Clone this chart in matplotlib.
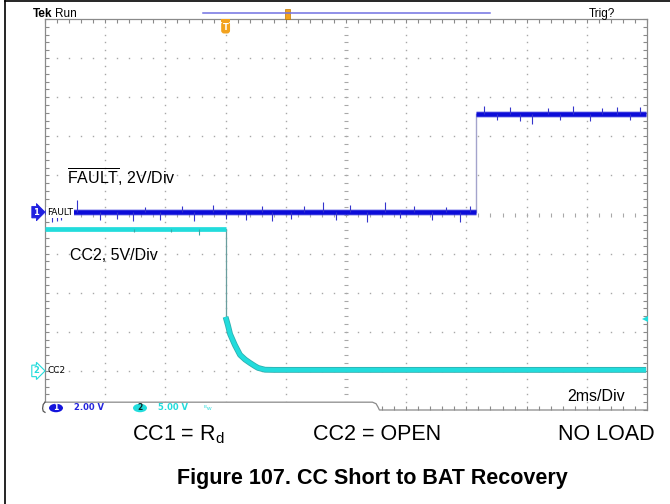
import numpy as np
import matplotlib
matplotlib.use("Agg")
import matplotlib.pyplot as plt
from matplotlib.patches import Ellipse, Rectangle
from matplotlib.lines import Line2D
from matplotlib import transforms

plt.rcParams['font.family'] = ['Liberation Sans', 'DejaVu Sans']
plt.rcParams['mathtext.fontset'] = 'custom'
plt.rcParams['mathtext.rm'] = 'Liberation Sans'

# ---- scope settings ----
time_per_div = 2.0      # ms/div
n_hdiv = 10
n_vdiv = 10
ch1_scale = 2.0         # V/div, FAULT
ch2_scale = 5.0         # V/div, CC2
ch1_pos = 0.06          # div
ch2_pos = -4.0          # div
trig_t = 6.0            # ms
trig_level_v = 6.6      # V on CC2

# ---- FAULT trace (ms, V) ----
fault_t = [0.0, 14.32, 14.32, 19.97]
fault_v = [0.0, 0.0, 5.0, 5.0]
fault_spike_t = [0.23, 0.40, 0.53, 1.06, 1.83, 2.39, 2.92, 3.32, 3.82, 4.55,
                 4.95, 5.58, 6.01, 6.68, 7.21, 7.54, 8.17, 8.60, 9.24, 9.67,
                 10.13, 10.70, 11.30, 11.79, 12.26, 12.86, 13.32, 13.79, 14.12,
                 14.58, 15.02, 15.45, 15.78, 16.18, 16.71, 17.11, 17.54, 18.11,
                 18.50, 19.00, 19.44, 19.77]
fault_spike_v = [-0.51, -0.46, -0.41, 0.61, -0.41, -0.36, -0.46, 0.26, -0.41, 0.31,
                 -0.46, 0.36, -0.36, -0.41, 0.31, -0.46, -0.36, 0.31, 0.51, -0.41,
                 0.36, -0.51, 0.51, -0.31, 0.31, -0.41, 0.26, -0.51, 0.31,
                 0.41, -0.31, 0.36, -0.36, -0.51, 0.31, -0.31, 0.41, -0.36,
                 0.31, 0.36, -0.31, 0.36]

# ---- CC2 trace (ms, V) ----
cc2_t = [0.0, 6.0, 6.0, 6.08, 6.15, 6.31, 6.48, 6.65, 6.81, 6.98, 7.08, 7.31, 7.6, 19.97]
cc2_v = [18.2, 18.2, 6.9, 5.8, 4.7, 3.3, 2.05, 1.45, 1.02, 0.6, 0.38, 0.15, 0.13, 0.13]
cc2_spike_t = [2.95, 4.20, 5.12]
cc2_spike_v = [-0.5, -0.5, -0.8]

W, H = 670, 504


def fx(x):
    return x / W


def fy(y):
    return 1 - y / H


fig = plt.figure(figsize=(W / 100, H / 100), dpi=100)
fig.patch.set_facecolor('white')

ax = fig.add_axes([fx(45), fy(410), (647 - 45) / W, (410 - 19) / H])
xmax = time_per_div * n_hdiv
ax.set_xlim(0, xmax)
ax.set_ylim(-n_vdiv / 2, n_vdiv / 2)

grid_c = '#8a8a8a'
dot_c = '#a8a8a8'
for s in ['left', 'top', 'right']:
    ax.spines[s].set_color(grid_c)
    ax.spines[s].set_linewidth(0.9)
ax.spines['bottom'].set_visible(False)
ax.spines['left'].set_bounds(-4.8, 5)

ax.set_xticks(np.arange(0, xmax + 0.01, time_per_div))
ax.set_xticks(np.arange(0, xmax + 0.01, time_per_div / 5), minor=True)
ax.set_yticks(np.arange(-5, 5.01, 1))
ax.set_yticks(np.arange(-5, 5.01, 0.2), minor=True)
ax.tick_params(which='both', direction='in', top=True, right=True, bottom=True, left=True,
               labelbottom=False, labelleft=False, length=3, width=0.8, color=grid_c)

# dotted graticule
sub_y = np.arange(-5, 5.001, 0.2)[1:-1]
sub_x = np.arange(0, xmax + 0.001, time_per_div / 5)[1:-1]
for gx in np.arange(time_per_div, xmax - 0.01, time_per_div):
    if abs(gx - xmax / 2) < 1e-6:
        continue
    ax.plot(np.full_like(sub_y, gx), sub_y, ls='none', marker='s', ms=1.0, mew=0,
            color=dot_c, zorder=1)
for gy in range(-4, 5):
    if gy == 0:
        continue
    ax.plot(sub_x, np.full_like(sub_x, gy), ls='none', marker='s', ms=1.0, mew=0,
            color=dot_c, zorder=1)
# centre cross with sub-division ticks
ax.plot(sub_x, np.zeros_like(sub_x), ls='none', marker='|', ms=3.5, mew=0.8,
        color=dot_c, zorder=1)
ax.plot(np.full_like(sub_y, xmax / 2), sub_y, ls='none', marker='_', ms=3.5, mew=0.8,
        color=dot_c, zorder=1)


def to_div(v, scale, pos):
    return np.asarray(v, dtype=float) / scale + pos


# ---- CC2 ----
cc2_c = '#22dcdc'
ct = np.array(cc2_t)
cy = to_div(cc2_v, ch2_scale, ch2_pos)
ax.plot(ct[1:3], cy[1:3], color='#6a9e9e', lw=0.9, zorder=3)
ax.plot(ct[:2], cy[:2], color=cc2_c, lw=3.4, solid_capstyle='butt', zorder=3)
ax.plot(ct[2:], cy[2:], color='#2fb0b0', lw=4.2, solid_capstyle='butt', zorder=3)
ax.plot(ct[2:], cy[2:], color=cc2_c, lw=3.0, solid_capstyle='butt', zorder=3)
cbase = np.interp(cc2_spike_t, ct[:2], cy[:2])
ax.vlines(cc2_spike_t, cbase, cbase + np.array(cc2_spike_v) / ch2_scale,
          color='#3aa8a8', lw=0.8, zorder=3)

# ---- FAULT ----
f_c = '#0c0cd8'
ft = np.array(fault_t)
fyv = to_div(fault_v, ch1_scale, ch1_pos)
ax.plot(ft[1:3], fyv[1:3], color='#a4a4cc', lw=1.0, zorder=4)
for i0 in (0, 2):
    seg_t, seg_y = ft[i0:i0 + 2], fyv[i0:i0 + 2]
    ax.plot(seg_t, seg_y, color='#5050e4', lw=5.0, alpha=0.35, solid_capstyle='butt', zorder=4)
    ax.plot(seg_t, seg_y, color=f_c, lw=3.3, solid_capstyle='butt', zorder=4)
st = np.array(fault_spike_t)
fbase = np.where(st < fault_t[1], fyv[0], fyv[2])
ax.vlines(st, fbase, fbase + np.array(fault_spike_v) / ch1_scale,
          color='#3434cc', lw=0.8, zorder=4)

# trigger level marker on the right edge
ax.plot([xmax - 0.08], [to_div(trig_level_v, ch2_scale, ch2_pos)], marker='<', ms=4,
        color=cc2_c, mew=0, clip_on=False, zorder=5)

# readout box cut into the bottom of the graticule
box_end = 11.06
ax.add_patch(Rectangle((0, -5.3), box_end, 0.5, facecolor='white', edgecolor='none',
                       zorder=6, clip_on=False))
ax.plot([0, box_end - 0.18, box_end - 0.06, box_end, box_end + 0.05, xmax],
        [-4.8, -4.8, -4.84, -4.92, -5.0, -5.0],
        color=grid_c, lw=0.9, zorder=7, clip_on=False)
ax.plot([0, -0.06, -0.08, -0.06, 0.0], [-4.8, -4.86, -4.96, -5.03, -5.06],
        color='#555555', lw=0.9, zorder=7, clip_on=False)

# ---- channel ground markers ----
blend = transforms.blended_transform_factory(fig.transFigure, ax.transData)
ax.text(fx(36), ch1_pos, '1', transform=blend, ha='center', va='center', fontsize=6,
        color='white', fontweight='bold', family='DejaVu Sans', zorder=8,
        bbox=dict(boxstyle='rarrow,pad=0.15', fc='#2020e0', ec='#2020e0', lw=0.6))
ax.text(fx(47), ch1_pos, 'FAULT', transform=blend, ha='left', va='center', fontsize=6.5,
        color='black', family='DejaVu Sans', zorder=8,
        bbox=dict(boxstyle='square,pad=0.12', fc='white', ec='none'))
ax.text(fx(36), ch2_pos, '2', transform=blend, ha='center', va='center', fontsize=6,
        color=cc2_c, fontweight='bold', family='DejaVu Sans', zorder=8,
        bbox=dict(boxstyle='rarrow,pad=0.15', fc='white', ec=cc2_c, lw=0.8))
ax.text(fx(47), ch2_pos, 'CC2', transform=blend, ha='left', va='center', fontsize=6.5,
        color='black', family='DejaVu Sans', zorder=8)

# ---- readout row ----
ry = 408
fig.add_artist(Ellipse((fx(56), fy(ry)), 14 / W, 8.5 / H, transform=fig.transFigure,
                       fc='#1414dc', ec='none', zorder=9))
fig.text(fx(56), fy(ry), '1', ha='center', va='center', fontsize=5.5, color='white',
         fontweight='bold', family='DejaVu Sans', zorder=10)
fig.text(fx(74), fy(ry), '2.00 V', ha='left', va='center', fontsize=6, color='#2424dc',
         fontweight='bold', family='DejaVu Sans', zorder=10)
fig.add_artist(Ellipse((fx(140), fy(ry)), 14 / W, 8.5 / H, transform=fig.transFigure,
                       fc=cc2_c, ec='none', zorder=9))
fig.text(fx(140), fy(ry), '2', ha='center', va='center', fontsize=5.5, color='#0a2a2a',
         fontweight='bold', family='DejaVu Sans', zorder=10)
fig.text(fx(158), fy(ry), '5.00 V', ha='left', va='center', fontsize=6, color=cc2_c,
         fontweight='bold', family='DejaVu Sans', zorder=10)
fig.text(fx(203), fy(ry), r'$^{\mathregular{B}}\mathregular{w}$', ha='left', va='center',
         fontsize=4.5, color=cc2_c, zorder=10)

# ---- header ----
fig.text(fx(33), fy(14), 'Tek', ha='left', va='center', fontsize=8.5, fontweight='bold',
         color='black')
fig.text(fx(55), fy(14), 'Run', ha='left', va='center', fontsize=8.5, color='black')
fig.text(fx(589), fy(14), 'Trig?', ha='left', va='center', fontsize=8.5, color='black')
fig.add_artist(Line2D([fx(203), fx(490)], [fy(13.3), fy(13.3)], color='#7272e2', lw=1.1,
                      transform=fig.transFigure))
fig.add_artist(Rectangle((fx(284.5), fy(19)), 5 / W, 10 / H, transform=fig.transFigure,
                         fc='#f2a21e', ec='#c07800', lw=0.5))
# trigger position marker
trig_x = 45 + trig_t / time_per_div * 60.2
fig.add_artist(Rectangle((fx(trig_x - 4.5), fy(22)), 9 / W, 3 / H, transform=fig.transFigure,
                         fc='#f2a21e', ec='none'))
fig.text(fx(trig_x), fy(27.5), 'T', ha='center', va='center', fontsize=6, color='white',
         fontweight='bold', family='DejaVu Sans',
         bbox=dict(boxstyle='round,pad=0.18,rounding_size=0.35', fc='#f2a21e', ec='none'))

# ---- annotations ----
fig.text(fx(67), fy(183.7), r'$\overline{\mathregular{FAULT}}$, 2V/Div', ha='left',
         va='baseline', fontsize=11.5, color='black')
fig.text(fx(70), fy(259.7), 'CC2, 5V/Div', ha='left', va='baseline', fontsize=11.5,
         color='black')
fig.text(fx(567), fy(400.7), '2ms/Div', ha='left', va='baseline', fontsize=11.5,
         color='black')

fig.text(fx(132), fy(440), r'CC1 = R$_\mathregular{d}$', ha='left', va='baseline',
         fontsize=15.5, color='black')
fig.text(fx(313), fy(440), 'CC2 = OPEN', ha='left', va='baseline', fontsize=15.5,
         color='black')
fig.text(fx(655), fy(440), 'NO LOAD', ha='right', va='baseline', fontsize=15.5,
         color='black')
fig.text(fx(372), fy(484), 'Figure 107. CC Short to BAT Recovery', ha='center',
         va='baseline', fontsize=15.5, fontweight='bold', color='black')

# page frame
fig.add_artist(Line2D([fx(5), fx(5)], [fy(1), 0], color='black', lw=1.2,
                      transform=fig.transFigure))
fig.add_artist(Line2D([fx(5), 1], [fy(1), fy(1)], color='black', lw=1.2,
                      transform=fig.transFigure))

fig.savefig('out.png', dpi=100, facecolor='white')
